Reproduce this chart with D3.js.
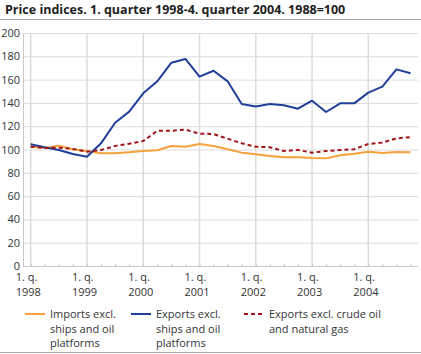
<!DOCTYPE html>
<html>
<head>
<meta charset="utf-8">
<script src="https://cdn.jsdelivr.net/npm/d3@7"></script>
<style>
  body { margin: 0; background: #fff; }
  svg { font-family: "Open Sans", "DejaVu Sans", sans-serif; }
</style>
</head>
<body>
<svg id="chart" width="421" height="354"></svg>
<script>
// Quarters 1998Q1 .. 2004Q4
const quarters = d3.range(28);
const yearLabels = ["1998", "1999", "2000", "2001", "2002", "2003", "2004"];
const yTicks = [0, 20, 40, 60, 80, 100, 120, 140, 160, 180, 200];

const imports = [102.4, 101.3, 103.3, 100.2, 98.7, 96.7, 96.7, 97.6, 98.7, 99.3, 103, 102.4, 104.7, 103,
                 100.2, 97.3, 95.9, 94.4, 93.3, 93.3, 92.7, 92.4, 95, 96.4, 98.1, 97, 97.9, 97.6];
const exportsShips = [104.5, 101.9, 99.6, 96.1, 93.8, 105.3, 123, 132.5, 148.2, 158.5, 174.5, 177.7, 162.5, 167.6,
                      158.5, 139, 137, 139, 137.9, 135, 141.9, 132.2, 139.6, 139.6, 148.8, 154, 168.8, 165.4];
const exportsOil = [102.4, 101.3, 101.6, 100.5, 98.1, 99.6, 103, 105, 107.3, 116.1, 116.1, 117, 113.6, 113.3,
                    109.3, 105.3, 102.4, 101.9, 98.7, 99.6, 97.3, 98.7, 99.6, 100.2, 104.7, 105.9, 109.6, 110.5];

const series = [
  { name: ["Imports excl.", "ships and oil", "platforms"], values: imports, color: "#f7a03c", dash: null },
  { name: ["Exports excl.", "ships and oil", "platforms"], values: exportsShips, color: "#1f3f99", dash: null },
  { name: ["Exports excl. crude oil", "and natural gas"], values: exportsOil, color: "#a0151a", dash: "4,3" }
];

const svg = d3.select("#chart");
const plotLeft = 23, plotRight = 418, plotTop = 33, plotBottom = 266;

const x = d3.scaleLinear().domain([0, 27]).range([30.7, 410.5]);
const y = d3.scaleLinear().domain([0, 200]).range([plotBottom, plotTop]);

// Title
svg.append("text")
  .attr("x", 5).attr("y", 14)
  .attr("font-size", 12.5).attr("font-weight", "bold").attr("fill", "#222")
  .text("Price indices. 1. quarter 1998-4. quarter 2004. 1988=100");
svg.append("line").attr("x1", 0).attr("x2", 421).attr("y1", 19.5).attr("y2", 19.5)
  .attr("stroke", "#aaa").attr("stroke-width", 1);

// Horizontal grid
svg.append("g").selectAll("line").data(yTicks.filter(d => d > 0)).join("line")
  .attr("x1", plotLeft).attr("x2", plotRight)
  .attr("y1", d => y(d) + 0.5).attr("y2", d => y(d) + 0.5)
  .attr("stroke", "#dcdcdc");

// Vertical year grid
svg.append("g").selectAll("line").data(yearLabels).join("line")
  .attr("x1", (d, i) => x(i * 4)).attr("x2", (d, i) => x(i * 4))
  .attr("y1", plotTop).attr("y2", plotBottom)
  .attr("stroke", "#dcdcdc").attr("stroke-width", 1.5);

// Axes
const yAxis = d3.axisLeft(y).tickValues(yTicks).tickSize(0).tickPadding(3);
const gy = svg.append("g").attr("transform", `translate(${plotLeft},0)`).call(yAxis);
gy.select(".domain").attr("stroke", "#c8c8c8");
gy.selectAll("text").attr("font-size", 11).attr("fill", "#333").attr("font-family", "'Open Sans', sans-serif");

const xAxis = d3.axisBottom(x).tickValues(quarters).tickSize(-3).tickFormat("");
const gx = svg.append("g").attr("transform", `translate(0,${plotBottom + 0.5})`).call(xAxis);
gx.select(".domain").remove();
gx.selectAll(".tick line").attr("stroke", "#c8c8c8");
gx.append("line").attr("x1", plotLeft).attr("x2", plotRight).attr("stroke", "#c8c8c8");

const xl = svg.append("g").selectAll("text").data(yearLabels).join("text")
  .attr("font-size", 11).attr("fill", "#333");
xl.append("tspan").attr("x", (d, i) => x(i * 4) - 15).attr("y", 281).text("1. q.");
xl.append("tspan").attr("x", (d, i) => x(i * 4) - 15).attr("y", 295.5).text(d => d);

// Lines
const line = d3.line().x((d, i) => x(i)).y(d => y(d));
svg.append("g").selectAll("path").data(series).join("path")
  .attr("d", d => line(d.values))
  .attr("fill", "none")
  .attr("stroke", d => d.color)
  .attr("stroke-width", 2)
  .attr("stroke-dasharray", d => d.dash)
  .attr("stroke-linejoin", "round");

// Legend
const legendX = [25, 131, 244];
const lg = svg.append("g").selectAll("g").data(series).join("g")
  .attr("transform", (d, i) => `translate(${legendX[i]},0)`);
lg.append("line").attr("x1", 0).attr("x2", 20).attr("y1", 314).attr("y2", 314)
  .attr("stroke", d => d.color).attr("stroke-width", 2)
  .attr("stroke-dasharray", d => d.dash);
lg.append("text").attr("font-size", 11).attr("fill", "#333")
  .selectAll("tspan").data(d => d.name).join("tspan")
  .attr("x", 25).attr("y", (d, i) => 318 + i * 14.5).text(d => d);

svg.append("line").attr("x1", 0).attr("x2", 421).attr("y1", 352.5).attr("y2", 352.5)
  .attr("stroke", "#aaa");
</script>
</body>
</html>
